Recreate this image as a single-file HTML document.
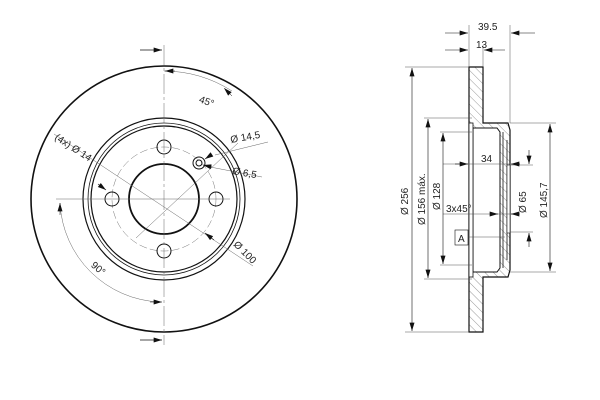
<!DOCTYPE html>
<html><head><meta charset="utf-8"><style>body{margin:0;background:#fff}svg{display:block}text{font-family:"Liberation Sans",sans-serif;font-size:10px;fill:#222}</style></head><body>
<svg width="600" height="400" viewBox="0 0 600 400" xmlns="http://www.w3.org/2000/svg">
<defs>
<marker id="a" viewBox="0 0 10 6" refX="10" refY="3" markerWidth="9" markerHeight="5" orient="auto-start-reverse" markerUnits="userSpaceOnUse"><path d="M0,0L10,3L0,6z" fill="#111"/></marker>
<pattern id="h" width="6" height="6" patternUnits="userSpaceOnUse" patternTransform="rotate(-45)"><line x1="0" y1="0" x2="0" y2="6" stroke="#999" stroke-width="1"/></pattern>
</defs>
<g fill="none" stroke="#111">
<circle cx="164" cy="199" r="133" stroke-width="1.6"/>
<circle cx="164" cy="199" r="81" stroke-width="1.2"/>
<circle cx="164" cy="199" r="76" stroke-width="0.8"/>
<circle cx="164" cy="199" r="73" stroke-width="1.2"/>
<circle cx="164" cy="199" r="35" stroke-width="1.8"/>
<circle cx="164" cy="199" r="52" stroke-width="0.5" stroke="#777" stroke-dasharray="8,3"/>
<circle cx="164" cy="147" r="7"/><circle cx="164" cy="251" r="7"/><circle cx="112" cy="199" r="7"/><circle cx="216" cy="199" r="7"/>
<circle cx="199" cy="163" r="6"/><circle cx="199" cy="163" r="3"/>
<g stroke-width="0.5" stroke="#666">
<line x1="164" y1="45" x2="164" y2="345" stroke-dasharray="20,3,3,3"/>
<line x1="56" y1="199" x2="230" y2="199"/>
<line x1="54" y1="134" x2="253" y2="266"/>
<line x1="136" y1="238" x2="238" y2="143"/>
<line x1="215" y1="155" x2="268" y2="142"/>
<line x1="205" y1="166" x2="262" y2="177"/>
<path d="M164,71 A128,128 0 0 1 232,91"/>
<path d="M60,203 A104,104 0 0 0 160,302"/>
</g>
<line x1="140" y1="50" x2="162" y2="50" stroke-width="0.8" marker-end="url(#a)"/>
<line x1="140" y1="340" x2="162" y2="340" stroke-width="0.8" marker-end="url(#a)"/>
<line x1="175" y1="71" x2="165" y2="71" stroke-width="0.5" marker-end="url(#a)"/>
<line x1="224" y1="88" x2="232" y2="96" stroke-width="0.5" marker-start="url(#a)"/>
<line x1="60" y1="215" x2="60" y2="203" stroke-width="0.5" marker-end="url(#a)"/>
<line x1="150" y1="302" x2="162" y2="302" stroke-width="0.5" marker-end="url(#a)"/>
<line x1="98" y1="184" x2="106" y2="190" stroke-width="0.6" marker-end="url(#a)"/>
<line x1="205" y1="233" x2="214" y2="240" stroke-width="0.6" marker-start="url(#a)"/>
<line x1="208" y1="157" x2="205" y2="159" stroke-width="0.6" marker-end="url(#a)"/>
<line x1="212" y1="167" x2="203" y2="165" stroke-width="0.6" marker-end="url(#a)"/>
<path d="M469,67 H483 V123 H508 L510,130 V270 L508,277 H483 V332 H469 Z" fill="url(#h)" stroke-width="1.2"/>
<path d="M473,128 H497 L500,132 V268 L497,272 H473 Z" fill="#fff" stroke-width="1"/>
<rect x="469" y="123" width="4" height="154" fill="#fff" stroke-width="0.8"/>
<line x1="503" y1="132" x2="503" y2="268" stroke-width="0.8"/>
<line x1="507" y1="140" x2="507" y2="260" stroke-width="0.8"/>
<rect x="507" y="165" width="3" height="68" fill="#fff" stroke-width="0.6"/>
<g stroke-width="0.5" stroke="#555">
<line x1="469" y1="25" x2="469" y2="67"/><line x1="510" y1="25" x2="510" y2="123"/>
<line x1="483" y1="45" x2="483" y2="67"/>
<line x1="405" y1="67" x2="469" y2="67"/><line x1="405" y1="332" x2="469" y2="332"/>
<line x1="424" y1="118" x2="472" y2="118"/><line x1="424" y1="279" x2="472" y2="279"/>
<line x1="440" y1="132" x2="472" y2="132"/><line x1="440" y1="265" x2="472" y2="265"/>
<line x1="510" y1="123" x2="556" y2="123"/><line x1="510" y1="272" x2="556" y2="272"/>
<line x1="510" y1="165" x2="533" y2="165"/><line x1="510" y1="232" x2="533" y2="232"/>
<line x1="443" y1="214" x2="520" y2="214"/>
<line x1="443" y1="164" x2="510" y2="164"/>
<line x1="468" y1="237" x2="505" y2="237"/>
</g>
<g stroke-width="0.6" marker-start="url(#a)" marker-end="url(#a)">
<line x1="412" y1="68" x2="412" y2="331"/>
<line x1="428" y1="119" x2="428" y2="278"/>
<line x1="443" y1="133" x2="443" y2="264"/>
<line x1="550" y1="124" x2="550" y2="271"/>
</g>
<g stroke-width="0.6">
<line x1="445" y1="33" x2="468" y2="33" marker-end="url(#a)"/><line x1="535" y1="33" x2="511" y2="33" marker-end="url(#a)"/>
<line x1="445" y1="50" x2="468" y2="50" marker-end="url(#a)"/><line x1="505" y1="50" x2="484" y2="50" marker-end="url(#a)"/>
<line x1="529" y1="150" x2="529" y2="164" marker-end="url(#a)"/><line x1="529" y1="247" x2="529" y2="233" marker-end="url(#a)"/>
<line x1="455" y1="164" x2="468" y2="164" marker-end="url(#a)"/><line x1="520" y1="164" x2="511" y2="164" marker-end="url(#a)"/>
<line x1="490" y1="214" x2="498" y2="214" marker-end="url(#a)"/><line x1="519" y1="214" x2="511" y2="214" marker-end="url(#a)"/>
</g>
<rect x="455" y="230" width="13" height="15" stroke-width="0.6"/>
</g>
<text x="198" y="104" transform="rotate(20 204 104)">45°</text>
<text x="231" y="143" transform="rotate(-10 231 143)">Ø 14,5</text>
<text x="232" y="174" transform="rotate(10 232 174)">Ø 6,5</text>
<text x="54" y="139" transform="rotate(33 54 139)">(4x) Ø 14</text>
<text x="233" y="245" transform="rotate(45 233 245)">Ø 100</text>
<text x="89" y="270" transform="rotate(40 95 270)">90°</text>
<text x="478" y="30">39.5</text>
<text x="476" y="48">13</text>
<text x="481" y="162">34</text>
<text x="446" y="212">3x45°</text>
<text x="458" y="242">A</text>
<text x="408" y="215" transform="rotate(-90 408 215)">Ø 256</text>
<text x="425" y="225" transform="rotate(-90 425 225)">Ø 156 máx.</text>
<text x="440" y="210" transform="rotate(-90 440 210)">Ø 128</text>
<text x="526" y="213" transform="rotate(-90 526 213)">Ø 65</text>
<text x="547" y="218" transform="rotate(-90 547 218)">Ø 145,7</text>
</svg>
</body></html>
